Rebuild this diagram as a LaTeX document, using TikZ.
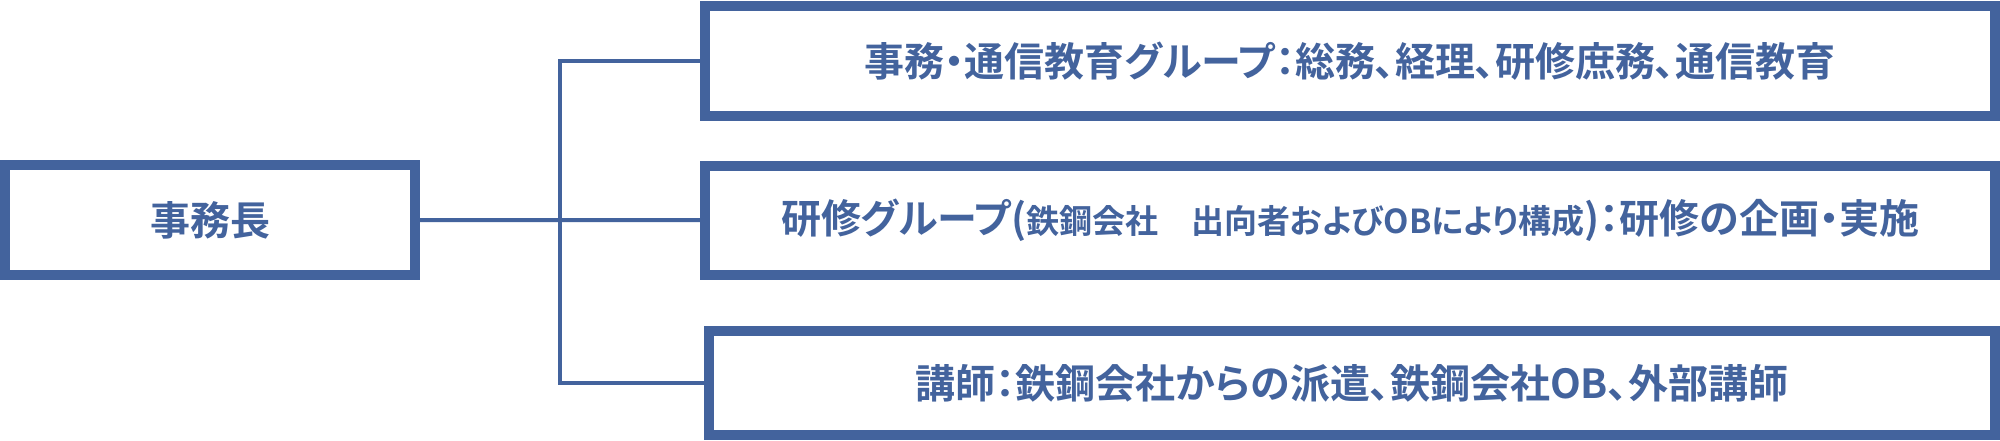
\documentclass[tikz,border=0pt]{standalone}
\usepackage{fontspec}
\setmainfont{Noto Sans CJK JP}[BoldFont={* Bold}, RawFeature={+palt}]
\usepackage{tikz}
\definecolor{orgblue}{RGB}{67,99,157}
\tikzset{
  boxstyle/.style={draw = orgblue, line width = 5pt, text = orgblue, inner sep = 0pt,
    font = \bfseries\fontsize{20}{24}\selectfont},
  edgeorg/.style={draw = orgblue, line width = 2pt}
}
\newcommand{\smalltext}[1]{{\fontsize{16.5}{19}\selectfont #1}}

\begin{document}
\begin{tikzpicture}[x=0.5pt, y=-0.5pt]
    \useasboundingbox (0,0) rectangle (2000,440);
    \draw
    (210,220) node[boxstyle, minimum width = 205pt, minimum height = 55pt] (head) {事務長}
    (1350,61) node[boxstyle, minimum width = 645pt, minimum height = 55pt] (grp1)
      {事務・通信教育グループ：総務、経理、研修庶務、通信教育}
    (1350,220.5) node[boxstyle, minimum width = 645pt, minimum height = 54.5pt] (grp2)
      {研修グループ(\smalltext{鉄鋼会社　出向者およびOBにより構成})：研修の企画・実施}
    (1352,383) node[boxstyle, minimum width = 643pt, minimum height = 52pt] (grp3)
      {講師：鉄鋼会社からの派遣、鉄鋼会社OB、外部講師};
    % ---------------------
    \coordinate (hub) at (560,220);
    \draw[edgeorg] (head) -- (grp2);
    \draw[edgeorg] (grp1.west) -| (hub) |- (grp3.west);
\end{tikzpicture}
\end{document}
